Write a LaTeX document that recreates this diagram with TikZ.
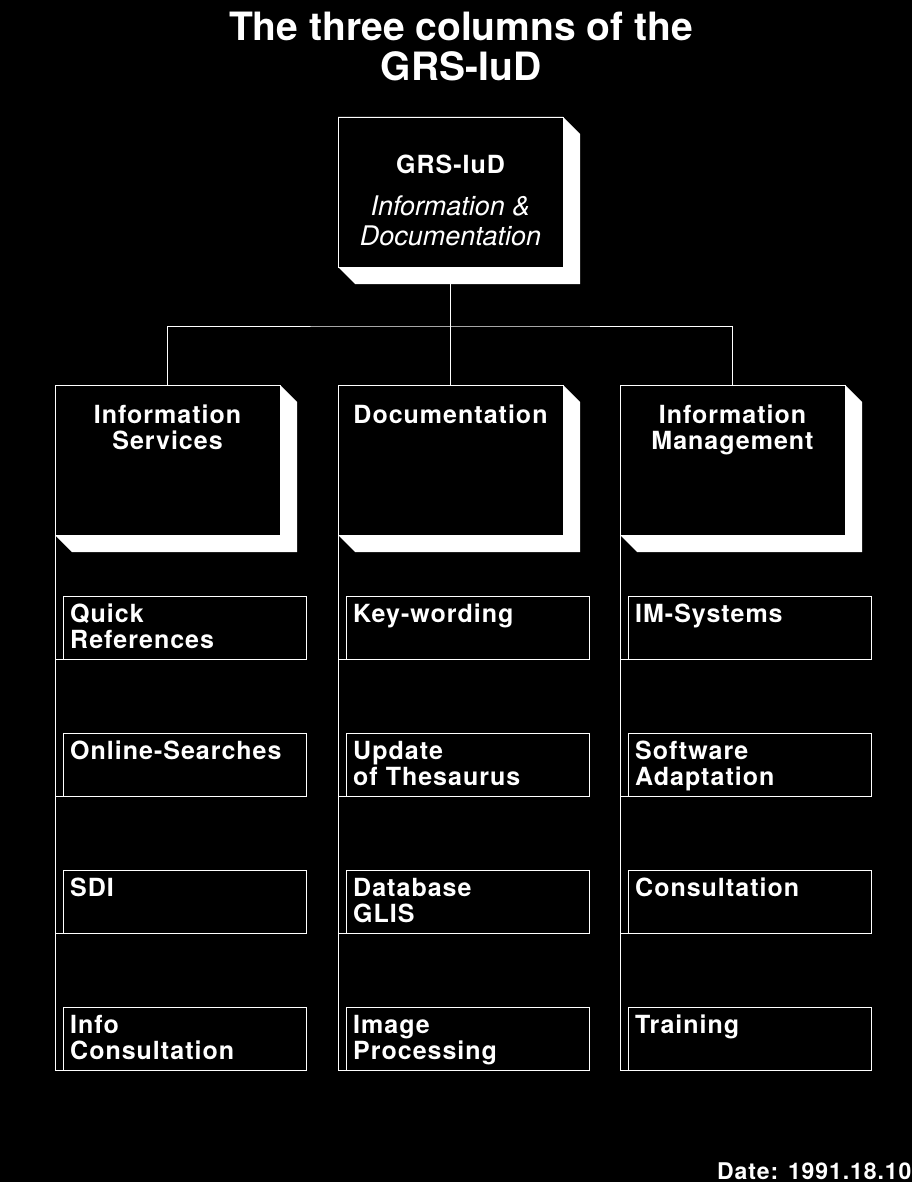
\documentclass[tikz,border=0pt]{standalone}
\usepackage{fontspec}
\setmainfont{TeX Gyre Heros}
\newfontfamily\widefont{TeX Gyre Heros}[LetterSpace=4]
\usetikzlibrary{positioning}
\pgfdeclarelayer{back}
\pgfsetlayers{back,main}

\begin{document}
\begin{tikzpicture}
[
x=1pt, y=-1pt,
line width=2pt,
box-a/.style={rectangle, draw=white, fill=black, outer sep=0pt, minimum width=225pt, minimum height=150pt},
box-b/.style={rectangle, draw=white, fill=black, outer sep=0pt, minimum width=243pt, minimum height=63pt},
text-t/.style={text=white, inner sep=0pt, align=center, font=\bfseries\fontsize{39}{40}\selectfont},
text-a/.style={text=white, inner sep=0pt, align=center, font=\widefont\bfseries\fontsize{25}{26}\selectfont},
text-b/.style={text=white, inner sep=0pt, align=center, font=\itshape\fontsize{27}{30}\selectfont},
text-c/.style={text=white, inner sep=0pt, align=left, font=\widefont\bfseries\fontsize{25}{26}\selectfont}
]

\useasboundingbox (0,0) rectangle (912,1182);
\begin{pgfonlayer}{back}
\fill [black] (0,0) rectangle (912,1182);
\end{pgfonlayer}

\node (title)      [text-t, anchor=north] at (461,12)                  {The three columns of the\\GRS-IuD};

\node (col-1)      [box-a, anchor=north west] at (55,385)              {};
\node (col-2)      [box-a, right       =  58pt of col-1]               {};
\node (col-3)      [box-a, right       =  57pt of col-2]               {};
\node (grs)        [box-a, above       = 118pt of col-2]               {};

\node (grs-name)   [text-a, below      =  38pt of grs.north]           {GRS-IuD};
\node (grs-lb)     [text-b, below      =  21pt of grs-name]            {Information \&\\Documentation};
\node (col-1-lb)   [text-a, below      =  20pt of col-1.north]         {Information\\Services};
\node (col-2-lb)   [text-a, below      =  20pt of col-2.north]         {Documentation};
\node (col-3-lb)   [text-a, below      =  20pt of col-3.north]         {Information\\Management};

\node (sub-1-1)    [box-b, below right = 61pt and 8pt of col-1.south west] {};
\node (sub-1-2)    [box-b, below       = 74pt of sub-1-1]              {};
\node (sub-1-3)    [box-b, below       = 74pt of sub-1-2]              {};
\node (sub-1-4)    [box-b, below       = 74pt of sub-1-3]              {};
\node (sub-2-1)    [box-b, below right = 61pt and 8pt of col-2.south west] {};
\node (sub-2-2)    [box-b, below       = 74pt of sub-2-1]              {};
\node (sub-2-3)    [box-b, below       = 74pt of sub-2-2]              {};
\node (sub-2-4)    [box-b, below       = 74pt of sub-2-3]              {};
\node (sub-3-1)    [box-b, below right = 61pt and 8pt of col-3.south west] {};
\node (sub-3-2)    [box-b, below       = 74pt of sub-3-1]              {};
\node (sub-3-3)    [box-b, below       = 74pt of sub-3-2]              {};
\node (sub-3-4)    [box-b, below       = 74pt of sub-3-3]              {};

\node (sub-1-1-lb) [text-c, below right = 8pt and 7pt of sub-1-1.north west] {Quick\\References};
\node (sub-1-2-lb) [text-c, below right = 8pt and 7pt of sub-1-2.north west] {Online-Searches};
\node (sub-1-3-lb) [text-c, below right = 8pt and 7pt of sub-1-3.north west] {SDI};
\node (sub-1-4-lb) [text-c, below right = 8pt and 7pt of sub-1-4.north west] {Info\\Consultation};
\node (sub-2-1-lb) [text-c, below right = 8pt and 7pt of sub-2-1.north west] {Key-wording};
\node (sub-2-2-lb) [text-c, below right = 8pt and 7pt of sub-2-2.north west] {Update\\of Thesaurus};
\node (sub-2-3-lb) [text-c, below right = 8pt and 7pt of sub-2-3.north west] {Database\\GLIS};
\node (sub-2-4-lb) [text-c, below right = 8pt and 7pt of sub-2-4.north west] {Image\\Processing};
\node (sub-3-1-lb) [text-c, below right = 8pt and 7pt of sub-3-1.north west] {IM-Systems};
\node (sub-3-2-lb) [text-c, below right = 8pt and 7pt of sub-3-2.north west] {Software\\Adaptation};
\node (sub-3-3-lb) [text-c, below right = 8pt and 7pt of sub-3-3.north west] {Consultation};
\node (sub-3-4-lb) [text-c, below right = 8pt and 7pt of sub-3-4.north west] {Training};

\node (date)       [text-c, anchor=base west, font=\widefont\bfseries\fontsize{23}{24}\selectfont] at (717,1179) {Date: 1991.18.10};

% connectors
\node (bus)        [coordinate, below = 59pt of grs.south]             {};
\draw [white] (grs.south) -- (col-2.north);
\draw [white] (col-1.north) |- (bus) -| (col-3.north);

\draw [white] (col-1.south west) -- (col-1.south west |- sub-1-4.south);
\draw [white] (col-2.south west) -- (col-2.south west |- sub-2-4.south);
\draw [white] (col-3.south west) -- (col-3.south west |- sub-3-4.south);
\draw [white] (sub-1-1.south west) -- (sub-1-1.south west -| col-1.south west);
\draw [white] (sub-1-2.south west) -- (sub-1-2.south west -| col-1.south west);
\draw [white] (sub-1-3.south west) -- (sub-1-3.south west -| col-1.south west);
\draw [white] (sub-1-4.south west) -- (sub-1-4.south west -| col-1.south west);
\draw [white] (sub-2-1.south west) -- (sub-2-1.south west -| col-2.south west);
\draw [white] (sub-2-2.south west) -- (sub-2-2.south west -| col-2.south west);
\draw [white] (sub-2-3.south west) -- (sub-2-3.south west -| col-2.south west);
\draw [white] (sub-2-4.south west) -- (sub-2-4.south west -| col-2.south west);
\draw [white] (sub-3-1.south west) -- (sub-3-1.south west -| col-3.south west);
\draw [white] (sub-3-2.south west) -- (sub-3-2.south west -| col-3.south west);
\draw [white] (sub-3-3.south west) -- (sub-3-3.south west -| col-3.south west);
\draw [white] (sub-3-4.south west) -- (sub-3-4.south west -| col-3.south west);

% 3d sides
\begin{pgfonlayer}{back}
\fill [white] (grs.north west) -- (grs.north east) -- ([shift={(17,17)}]grs.north east) -- ([shift={(17,17)}]grs.south east) -- ([shift={(17,17)}]grs.south west) -- (grs.south west) -- cycle;
\fill [white] (col-1.north west) -- (col-1.north east) -- ([shift={(17,17)}]col-1.north east) -- ([shift={(17,17)}]col-1.south east) -- ([shift={(17,17)}]col-1.south west) -- (col-1.south west) -- cycle;
\fill [white] (col-2.north west) -- (col-2.north east) -- ([shift={(17,17)}]col-2.north east) -- ([shift={(17,17)}]col-2.south east) -- ([shift={(17,17)}]col-2.south west) -- (col-2.south west) -- cycle;
\fill [white] (col-3.north west) -- (col-3.north east) -- ([shift={(17,17)}]col-3.north east) -- ([shift={(17,17)}]col-3.south east) -- ([shift={(17,17)}]col-3.south west) -- (col-3.south west) -- cycle;
\end{pgfonlayer}

\end{tikzpicture}
\end{document}
